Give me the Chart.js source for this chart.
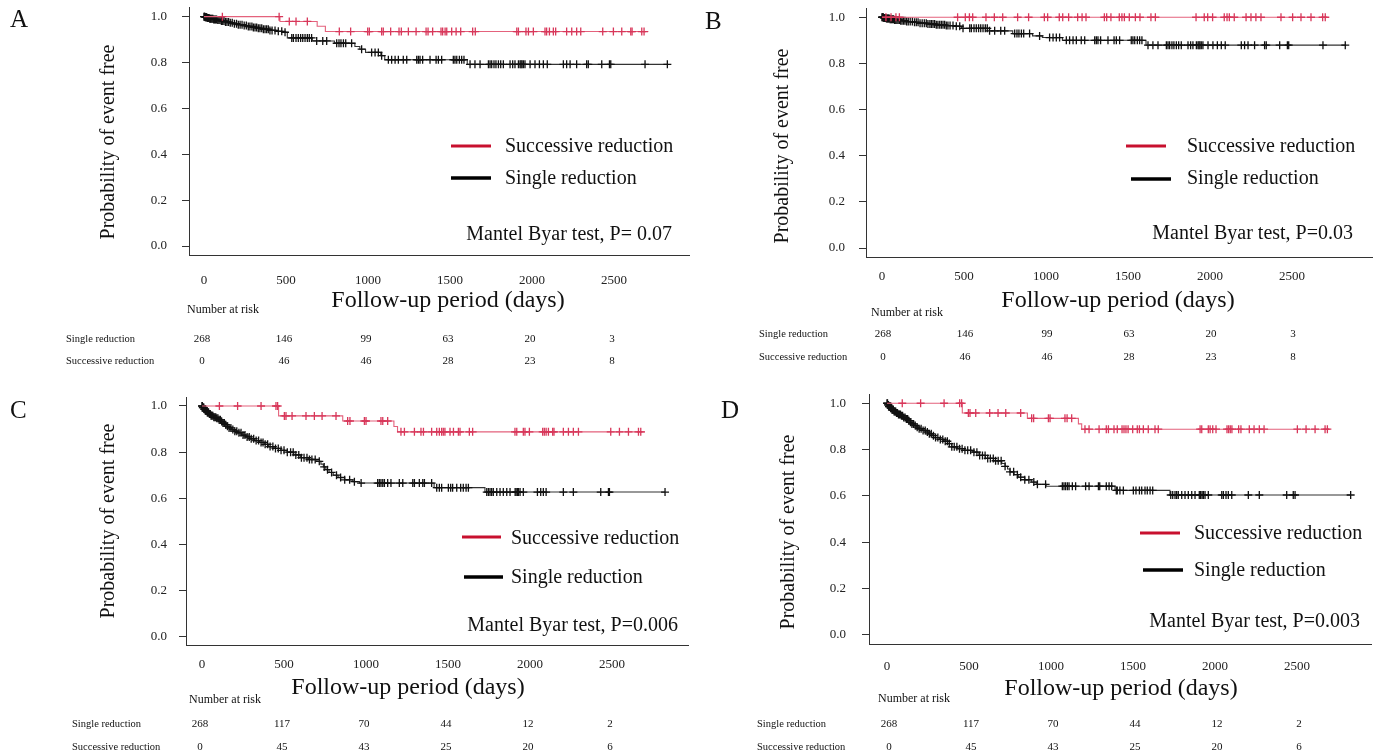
<!DOCTYPE html>
<html><head><meta charset="utf-8">
<script src="https://cdn.jsdelivr.net/npm/chart.js@4.4.1/dist/chart.umd.min.js"></script>
<style>
html,body{margin:0;padding:0;background:#fff;width:1378px;height:754px;overflow:hidden}
canvas{position:absolute;left:0;top:0}
</style></head><body>
<canvas id="cA" width="1378" height="754"></canvas>
<canvas id="cB" width="1378" height="754"></canvas>
<canvas id="cC" width="1378" height="754"></canvas>
<canvas id="cD" width="1378" height="754"></canvas>
<script>
// ---------- shared axis / table data ----------
const xTicks = [0, 500, 1000, 1500, 2000, 2500];
const yTicks = [0, 0.2, 0.4, 0.6, 0.8, 1.0];
const riskTimes = [0, 500, 1000, 1500, 2000, 2500];
const riskSingleAB = [268, 146, 99, 63, 20, 3];
const riskSuccAB = [0, 46, 46, 28, 23, 8];
const riskSingleCD = [268, 117, 70, 44, 12, 2];
const riskSuccCD = [0, 45, 43, 25, 20, 6];
const labelSucc = 'Successive reduction';
const labelSingle = 'Single reduction';
const pTexts = ['Mantel Byar test, P= 0.07', 'Mantel Byar test, P=0.03', 'Mantel Byar test, P=0.006', 'Mantel Byar test, P=0.003'];

// ---------- Panel A ----------
const aSingleSteps = [[0,1],[8,0.997],[20,0.994],[35,0.991],[55,0.988],[80,0.985],[105,0.981],[130,0.977],[155,0.973],[180,0.969],[205,0.965],[235,0.961],[265,0.957],[295,0.953],[325,0.949],[360,0.945],[395,0.940],[440,0.936],[480,0.932],[508,0.907],[660,0.894],[795,0.884],[920,0.870],[950,0.858],[985,0.844],[1078,0.830],[1102,0.812],[1605,0.792]];
const aSingleEnd = 2830;
const aSuccSteps = [[0,1],[463,0.979],[690,0.958],[740,0.935]];
const aSuccEnd = 2709;
const abSingleCensor = [0,2,5,8,11,14,17,20,23,27,31,35,39,44,49,54,59,65,71,77,84,91,98,106,114,122,131,140,150,160,172,185,198,209,220,232,245,258,270,280,292,301,311,321,331,341,352,362,372,382,392,402,415,433,453,474,494,535,545,561,575,589,602,616,630,642,656,687,724,748,809,823,835,850,864,900,961,1022,1043,1063,1083,1124,1144,1165,1185,1215,1236,1297,1307,1317,1333,1378,1415,1429,1449,1520,1530,1541,1557,1571,1585,1622,1652,1683,1734,1744,1754,1768,1780,1795,1809,1825,1866,1882,1896,1917,1927,1933,1939,1947,1957,1988,2018,2045,2069,2093,2191,2211,2232,2272,2333,2343,2425,2472,2480,2689,2825];
const aSuccCensor = [112,458,520,561,630,825,894,998,1008,1083,1093,1138,1189,1203,1246,1293,1354,1366,1394,1445,1455,1470,1480,1510,1537,1565,1638,1654,1907,1917,1963,1978,2008,2079,2089,2106,2130,2144,2211,2242,2272,2297,2431,2496,2547,2602,2610,2669,2683];

// ---------- Panel B ----------
const bSingleSteps = [[0,1],[10,0.997],[25,0.994],[45,0.991],[75,0.988],[110,0.985],[150,0.981],[190,0.978],[230,0.974],[280,0.971],[330,0.967],[390,0.964],[440,0.961],[485,0.952],[655,0.941],[797,0.929],[918,0.919],[978,0.912],[1100,0.900],[1610,0.879]];
const bSingleEnd = 2830;
const bSuccSteps = [[0,1]];
const bSuccEnd = 2717;
const bSuccCensor = [24,55,85,106,461,508,533,553,634,685,736,827,894,990,1010,1081,1102,1138,1193,1220,1244,1356,1370,1396,1447,1463,1478,1508,1545,1573,1640,1667,1915,1965,1986,2016,2087,2104,2118,2148,2220,2250,2280,2311,2433,2504,2555,2616,2687,2703];

// ---------- Panel C ----------
const cSingleSteps = [[0,1],[5,0.993],[12,0.986],[20,0.979],[30,0.972],[42,0.965],[55,0.958],[70,0.951],[85,0.947],[100,0.940],[115,0.933],[128,0.926],[140,0.919],[152,0.912],[165,0.905],[180,0.898],[195,0.891],[215,0.884],[240,0.874],[265,0.866],[290,0.858],[320,0.850],[350,0.842],[380,0.834],[405,0.824],[440,0.816],[480,0.808],[520,0.800],[560,0.788],[600,0.776],[650,0.768],[700,0.760],[725,0.748],[740,0.736],[755,0.724],[775,0.712],[800,0.700],[830,0.690],[870,0.680],[920,0.672],[960,0.666],[1415,0.646],[1725,0.627]];
const cSingleEnd = 2823;
const cSuccSteps = [[0,1],[467,0.957],[858,0.935],[1170,0.911],[1192,0.888]];
const cSuccEnd = 2701;
const cSingleCensor = [0,2,5,8,11,14,17,20,24,28,32,36,40,45,50,55,60,66,72,78,84,90,97,104,112,120,128,136,145,155,165,176,188,200,212,225,238,250,262,275,288,300,315,330,345,360,372,385,400,415,432,448,465,482,500,520,540,556,572,590,606,622,640,655,670,690,715,745,765,790,820,845,870,900,929,970,1071,1081,1091,1102,1112,1132,1152,1203,1224,1285,1295,1325,1346,1356,1400,1431,1447,1461,1502,1516,1528,1553,1577,1593,1610,1624,1736,1746,1756,1766,1776,1797,1817,1837,1858,1878,1909,1915,1923,1929,1939,1959,2045,2065,2081,2098,2203,2264,2431,2478,2484,2823];
const cSuccCensor = [106,217,360,451,461,502,512,549,634,685,732,817,888,902,990,1000,1091,1102,1132,1213,1234,1295,1335,1350,1400,1431,1447,1461,1471,1481,1512,1533,1563,1573,1630,1650,1908,1919,1959,1969,1996,2077,2087,2098,2112,2138,2146,2203,2234,2264,2295,2492,2545,2600,2661,2675];

// ---------- Panel D ----------
const dSingleSteps = [[0,1],[5,0.993],[12,0.986],[20,0.979],[30,0.972],[42,0.965],[55,0.958],[70,0.951],[85,0.946],[100,0.939],[115,0.932],[128,0.925],[140,0.918],[152,0.911],[165,0.904],[180,0.897],[195,0.890],[215,0.883],[235,0.876],[255,0.868],[275,0.860],[295,0.852],[320,0.844],[345,0.836],[370,0.826],[395,0.812],[430,0.804],[470,0.797],[520,0.789],[560,0.775],[600,0.762],[650,0.752],[700,0.740],[720,0.728],[735,0.716],[750,0.704],[775,0.692],[800,0.681],[840,0.670],[880,0.660],[910,0.650],[970,0.642],[1390,0.624],[1725,0.604]];
const dSingleEnd = 2827;
const dSuccSteps = [[0,1],[459,0.958],[856,0.935],[1167,0.911],[1187,0.888]];
const dSuccEnd = 2701;
const dSingleCensor = [0,3,6,9,12,15,18,22,26,30,34,38,43,48,53,58,64,70,76,82,88,95,102,110,118,126,134,143,152,162,172,184,196,208,220,233,246,258,270,283,296,310,325,340,355,368,380,395,410,426,442,458,475,492,510,530,548,565,582,598,614,630,648,662,678,696,720,750,772,795,815,840,865,895,917,967,1069,1079,1089,1100,1110,1130,1150,1211,1232,1289,1297,1337,1354,1370,1398,1404,1420,1441,1502,1518,1539,1553,1573,1587,1604,1620,1730,1742,1756,1766,1776,1797,1817,1837,1858,1878,1904,1912,1921,1929,1939,1959,2041,2051,2067,2081,2102,2203,2270,2437,2477,2488,2827];
const dSuccCensor = [93,205,348,443,455,496,506,541,626,677,724,815,882,894,984,994,1085,1098,1126,1207,1232,1293,1337,1350,1384,1404,1433,1445,1457,1470,1498,1526,1539,1563,1593,1634,1654,1909,1919,1959,1970,1986,2006,2073,2083,2093,2103,2144,2158,2209,2238,2270,2299,2502,2555,2610,2671,2685];

// ---------- helpers ----------
function survAt(steps, t) {
  let s = steps[0][1];
  for (const [st, sv] of steps) { if (st <= t) s = sv; else break; }
  return s;
}
function stepPoints(steps, end) {
  const pts = steps.map(([t, s]) => ({x: t, y: s}));
  pts.push({x: end, y: steps[steps.length - 1][1]});
  return pts;
}
function censorPoints(times, steps) {
  return times.map(t => ({x: t, y: survAt(steps, t)}));
}
const FONT = '"Liberation Serif", "Times New Roman", serif';
const F = s => s + 'px ' + FONT;

function textPlugin(P) {
  const L = P.L;
  return {
    id: 'panelText' + P.letter,
    afterDraw(chart) {
      const ctx = chart.ctx, xs = chart.scales.x;
      ctx.save();
      ctx.fillStyle = '#111';
      ctx.textBaseline = 'middle';
      ctx.font = F(25); ctx.textAlign = 'left';
      ctx.fillText(P.letter, L.letter[0], L.letter[1]);
      ctx.save();
      ctx.translate(L.ytitle[0], L.ytitle[1]); ctx.rotate(-Math.PI / 2);
      ctx.font = F(20); ctx.textAlign = 'center';
      ctx.fillText('Probability of event free', 0, 0);
      ctx.restore();
      ctx.font = F(24); ctx.textAlign = 'center';
      ctx.fillText('Follow-up period (days)', L.xtitle[0], L.xtitle[1]);
      ctx.font = F(12); ctx.textAlign = 'left';
      ctx.fillText('Number at risk', L.nar[0], L.nar[1]);
      ctx.font = F(10.5);
      ctx.fillText(labelSingle, L.rows[0], L.rows[1]);
      ctx.fillText(labelSucc, L.rows[0], L.rows[2]);
      ctx.font = F(11); ctx.textAlign = 'center';
      riskTimes.forEach((t, i) => {
        const px = xs.getPixelForValue(t) + L.riskOff;
        ctx.fillText(String(P.riskSingle[i]), px, L.rows[1]);
        ctx.fillText(String(P.riskSucc[i]), px, L.rows[2]);
      });
      ctx.lineCap = 'butt';
      ctx.strokeStyle = '#c8102e'; ctx.lineWidth = 3;
      ctx.beginPath(); ctx.moveTo(L.legR[0], L.legR[2]); ctx.lineTo(L.legR[1], L.legR[2]); ctx.stroke();
      ctx.strokeStyle = '#000'; ctx.lineWidth = 3.5;
      ctx.beginPath(); ctx.moveTo(L.legK[0], L.legK[2]); ctx.lineTo(L.legK[1], L.legK[2]); ctx.stroke();
      ctx.font = F(20); ctx.textAlign = 'left';
      ctx.fillText(labelSucc, L.legT[0], L.legT[1]);
      ctx.fillText(labelSingle, L.legT[0], L.legT[2]);
      ctx.textAlign = 'right';
      ctx.fillText(P.ptext, L.p[0], L.p[1]);
      ctx.restore();
    }
  };
}

function makeChart(id, P) {
  const yW = 60, xH = 40;
  const A = P.area;
  const datasets = [
    {data: censorPoints(P.succCensor, P.succSteps), showLine: false, pointStyle: 'cross', pointRadius: 4,
     pointBorderWidth: 1.3, pointBorderColor: '#d8375a', pointBackgroundColor: '#d8375a'},
    {data: stepPoints(P.succSteps, P.succEnd), stepped: 'before', borderColor: '#e4627c', borderWidth: 1.1,
     pointRadius: 0, fill: false},
    {data: censorPoints(P.singleCensor, P.singleSteps), showLine: false, pointStyle: 'cross', pointRadius: 4,
     pointBorderWidth: 1.3, pointBorderColor: '#111', pointBackgroundColor: '#111'},
    {data: stepPoints(P.singleSteps, P.singleEnd), stepped: 'before', borderColor: '#333', borderWidth: 1.1,
     pointRadius: 0, fill: false}
  ];
  const tickFont = {family: FONT, size: 13};
  return new Chart(document.getElementById(id), {
    type: 'line',
    data: {datasets},
    options: {
      responsive: false, animation: false, events: [],
      layout: {padding: {left: A.left - yW, top: A.top, right: 1378 - A.right, bottom: 754 - A.bottom - xH}},
      plugins: {legend: {display: false}, tooltip: {enabled: false}},
      scales: {
        x: {
          type: 'linear', min: P.xmin, max: P.xmax,
          afterFit: s => { s.height = xH; s.paddingLeft = 0; s.paddingRight = 0; },
          afterBuildTicks: s => { s.ticks = xTicks.map(v => ({value: v})); },
          grid: {display: false, drawTicks: false},
          border: {display: true, color: '#333', width: 1},
          ticks: {padding: P.xPad, color: '#222', font: tickFont, maxRotation: 0, autoSkip: false,
                  callback: v => String(v)}
        },
        y: {
          type: 'linear', min: P.ymin, max: P.ymax,
          afterFit: s => { s.width = yW; s.paddingTop = 0; s.paddingBottom = 0; },
          afterBuildTicks: s => { s.ticks = yTicks.map(v => ({value: v})); },
          grid: {display: true, drawOnChartArea: false, drawTicks: true, tickLength: 7, color: '#333', tickColor: '#333'},
          border: {display: true, color: '#333', width: 1},
          ticks: {padding: P.yPad, color: '#222', font: tickFont, callback: v => Number(v).toFixed(1)}
        }
      }
    },
    plugins: [textPlugin(P)]
  });
}

makeChart('cA', {
  letter: 'A', ptext: pTexts[0],
  area: {left: 189, top: 7, right: 689, bottom: 255},
  xmin: -91.5, xmax: 2957, ymin: -0.039, ymax: 1.042, xPad: 18, yPad: 15,
  singleSteps: aSingleSteps, singleEnd: aSingleEnd, singleCensor: abSingleCensor,
  succSteps: aSuccSteps, succEnd: aSuccEnd, succCensor: aSuccCensor,
  riskSingle: riskSingleAB, riskSucc: riskSuccAB,
  L: {letter: [10, 20], ytitle: [109, 142], xtitle: [448, 301], nar: [187, 310], rows: [66, 339, 361], riskOff: -2,
      legR: [451, 491, 146], legK: [451, 491, 178], legT: [505, 147, 179], p: [672, 235]}
});
makeChart('cB', {
  letter: 'B', ptext: pTexts[1],
  area: {left: 866, top: 8, right: 1372, bottom: 257},
  xmin: -97.6, xmax: 2988, ymin: -0.039, ymax: 1.040, xPad: 12, yPad: 14,
  singleSteps: bSingleSteps, singleEnd: bSingleEnd, singleCensor: abSingleCensor,
  succSteps: bSuccSteps, succEnd: bSuccEnd, succCensor: bSuccCensor,
  riskSingle: riskSingleAB, riskSucc: riskSuccAB,
  L: {letter: [705, 22], ytitle: [783, 146], xtitle: [1118, 301], nar: [871, 313], rows: [759, 334, 357], riskOff: 1,
      legR: [1126, 1166, 146], legK: [1131, 1171, 179], legT: [1187, 147, 179], p: [1353, 234]}
});
makeChart('cC', {
  letter: 'C', ptext: pTexts[2],
  area: {left: 186, top: 397, right: 688, bottom: 645},
  xmin: -97.6, xmax: 2963, ymin: -0.036, ymax: 1.039, xPad: 12, yPad: 12,
  singleSteps: cSingleSteps, singleEnd: cSingleEnd, singleCensor: cSingleCensor,
  succSteps: cSuccSteps, succEnd: cSuccEnd, succCensor: cSuccCensor,
  riskSingle: riskSingleCD, riskSucc: riskSuccCD,
  L: {letter: [10, 411], ytitle: [109, 521], xtitle: [408, 688], nar: [189, 700], rows: [72, 724, 747], riskOff: -2,
      legR: [462, 501, 537], legK: [464, 503, 577], legT: [511, 539, 578], p: [678, 626]}
});
makeChart('cD', {
  letter: 'D', ptext: pTexts[3],
  area: {left: 869, top: 394, right: 1371, bottom: 644},
  xmin: -109.8, xmax: 2951, ymin: -0.039, ymax: 1.040, xPad: 15, yPad: 16,
  singleSteps: dSingleSteps, singleEnd: dSingleEnd, singleCensor: dSingleCensor,
  succSteps: dSuccSteps, succEnd: dSuccEnd, succCensor: dSuccCensor,
  riskSingle: riskSingleCD, riskSucc: riskSuccCD,
  L: {letter: [721, 411], ytitle: [789, 532], xtitle: [1121, 689], nar: [878, 699], rows: [757, 724, 747], riskOff: 2,
      legR: [1140, 1180, 533], legK: [1143, 1183, 570], legT: [1194, 534, 571], p: [1360, 622]}
});
</script>
</body></html>
